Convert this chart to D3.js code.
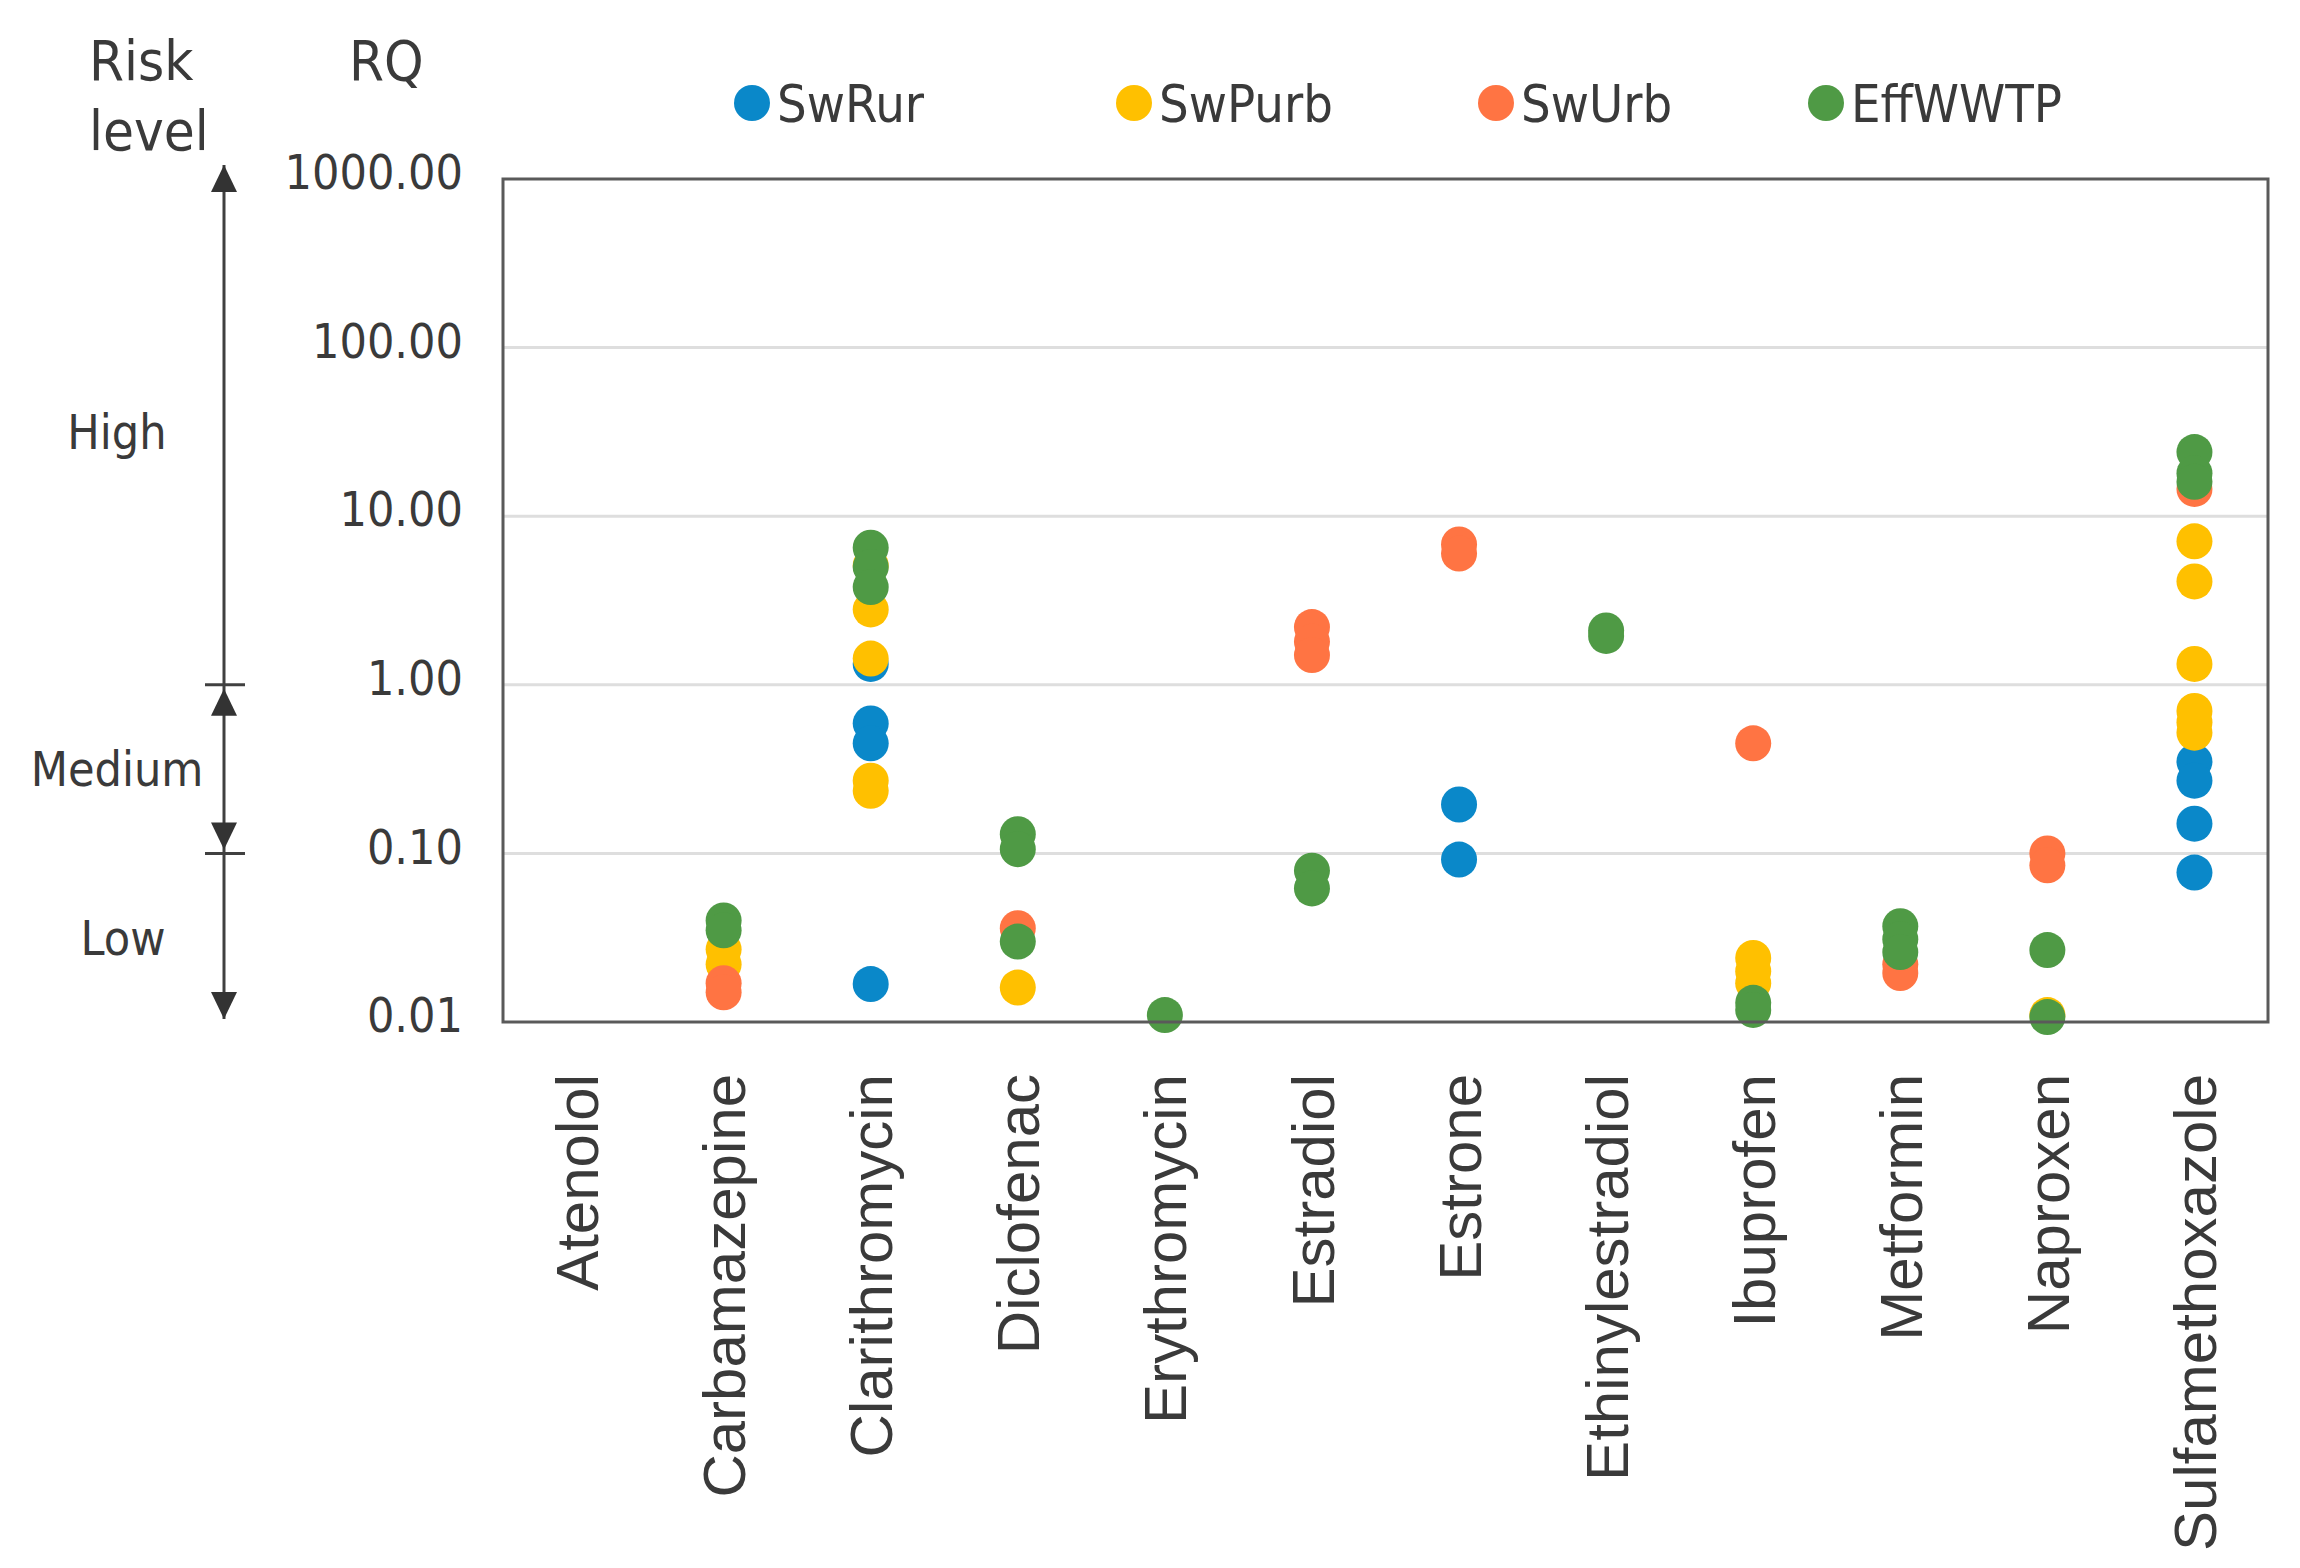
<!DOCTYPE html>
<html>
<head>
<meta charset="utf-8">
<script src="https://cdn.jsdelivr.net/npm/d3@7"></script>
<style>
  html, body { margin: 0; padding: 0; background: #fff; }
  .verd { font-family: 'DejaVu Sans Condensed', 'DejaVu Sans', sans-serif; font-stretch: condensed; fill: #3a3a3a; }
  .arial { font-family: 'Liberation Sans', Arial, sans-serif; fill: #3a3a3a; }
</style>
</head>
<body>
<div id="chart"></div>
<script>
const categories = ['Atenolol', 'Carbamazepine', 'Clarithromycin', 'Diclofenac', 'Erythromycin', 'Estradiol',
  'Estrone', 'Ethinylestradiol', 'Ibuprofen', 'Metformin', 'Naproxen', 'Sulfamethoxazole'];
const yTicks = [0.01, 0.1, 1, 10, 100, 1000];
const seriesNames = ['SwRur', 'SwPurb', 'SwUrb', 'EffWWTP'];
const seriesColors = ['#0a88c9', '#ffc000', '#ff7443', '#4f9a45'];

// [category, RQ]
const swRur = [
  ['Clarithromycin', 1.33], ['Clarithromycin', 0.59], ['Clarithromycin', 0.45], ['Clarithromycin', 0.0168],
  ['Estrone', 0.195], ['Estrone', 0.092],
  ['Sulfamethoxazole', 0.35], ['Sulfamethoxazole', 0.27], ['Sulfamethoxazole', 0.15], ['Sulfamethoxazole', 0.077]
];
const swPurb = [
  ['Carbamazepine', 0.027], ['Carbamazepine', 0.022],
  ['Clarithromycin', 5.1], ['Clarithromycin', 2.8], ['Clarithromycin', 1.43], ['Clarithromycin', 0.27], ['Clarithromycin', 0.235],
  ['Diclofenac', 0.016],
  ['Ibuprofen', 0.024], ['Ibuprofen', 0.02], ['Ibuprofen', 0.017],
  ['Naproxen', 0.011],
  ['Sulfamethoxazole', 7.1], ['Sulfamethoxazole', 4.1], ['Sulfamethoxazole', 1.33],
  ['Sulfamethoxazole', 0.7], ['Sulfamethoxazole', 0.6], ['Sulfamethoxazole', 0.52]
];
const swUrb = [
  ['Carbamazepine', 0.017], ['Carbamazepine', 0.015],
  ['Diclofenac', 0.036],
  ['Estradiol', 2.2], ['Estradiol', 1.8], ['Estradiol', 1.5],
  ['Estrone', 6.8], ['Estrone', 6.0],
  ['Ibuprofen', 0.45],
  ['Metformin', 0.022], ['Metformin', 0.0195],
  ['Naproxen', 0.1], ['Naproxen', 0.085],
  ['Sulfamethoxazole', 14.5]
];
const effWWTP = [
  ['Carbamazepine', 0.04], ['Carbamazepine', 0.035],
  ['Clarithromycin', 6.5], ['Clarithromycin', 5.0], ['Clarithromycin', 3.8],
  ['Diclofenac', 0.13], ['Diclofenac', 0.106], ['Diclofenac', 0.03],
  ['Erythromycin', 0.011],
  ['Estradiol', 0.079], ['Estradiol', 0.062],
  ['Ethinylestradiol', 2.1], ['Ethinylestradiol', 1.95],
  ['Ibuprofen', 0.013], ['Ibuprofen', 0.0118],
  ['Metformin', 0.037], ['Metformin', 0.031], ['Metformin', 0.026],
  ['Naproxen', 0.0267], ['Naproxen', 0.0107],
  ['Sulfamethoxazole', 24], ['Sulfamethoxazole', 18], ['Sulfamethoxazole', 16]
];
const allSeries = [swRur, swPurb, swUrb, effWWTP];

// risk bands: [label, from, to]
const riskBands = [['High', 1, 1000], ['Medium', 0.1, 1], ['Low', 0.01, 0.1]];

const width = 2300;
const height = 1568;
const plot = { left: 503, right: 2268, top: 179, bottom: 1022 };

const svg = d3.select('#chart')
  .append('svg')
  .attr('width', width)
  .attr('height', height)
  .attr('viewBox', `0 0 ${width} ${height}`);

const x = d3.scaleBand()
  .domain(categories)
  .range([plot.left, plot.right])
  .padding(0);

const y = d3.scaleLog()
  .domain([0.01, 1000])
  .range([plot.bottom, plot.top]);

// gridlines
svg.append('g')
  .selectAll('line')
  .data(yTicks.slice(1, -1))
  .enter()
  .append('line')
  .attr('x1', plot.left)
  .attr('x2', plot.right)
  .attr('y1', d => y(d))
  .attr('y2', d => y(d))
  .attr('stroke', '#dedede')
  .attr('stroke-width', 3);

// y axis labels
const yAxis = svg.append('g')
  .attr('transform', `translate(${plot.left},0)`)
  .call(d3.axisLeft(y).tickValues(yTicks).tickFormat(d3.format('.2f')).tickSize(0).tickPadding(40));
yAxis.select('.domain').remove();
yAxis.selectAll('text')
  .attr('class', 'verd')
  .attr('font-size', 48)
  .attr('dy', '0.2em')
  .attr('fill', '#3a3a3a');

// x axis labels (rotated)
svg.append('g')
  .selectAll('text')
  .data(categories)
  .enter()
  .append('text')
  .attr('class', 'arial')
  .attr('font-size', 60)
  .attr('text-anchor', 'end')
  .attr('dy', '0.36em')
  .attr('transform', d => `translate(${x(d) + x.bandwidth() / 2},1074) rotate(-90)`)
  .text(d => d);

// dots, series order so EffWWTP ends up on top
allSeries.forEach((pts, i) => {
  svg.append('g')
    .selectAll('circle')
    .data(pts)
    .enter()
    .append('circle')
    .attr('cx', d => x(d[0]) + x.bandwidth() / 2)
    .attr('cy', d => y(d[1]))
    .attr('r', 18)
    .attr('fill', seriesColors[i]);
});

// plot frame
svg.append('rect')
  .attr('x', plot.left)
  .attr('y', plot.top)
  .attr('width', plot.right - plot.left)
  .attr('height', plot.bottom - plot.top)
  .attr('fill', 'none')
  .attr('stroke', '#5a5a5a')
  .attr('stroke-width', 3);

// legend
const legendX = [752, 1134, 1496, 1826];
const legend = svg.append('g');
seriesNames.forEach((name, i) => {
  legend.append('circle')
    .attr('cx', legendX[i])
    .attr('cy', 103)
    .attr('r', 18)
    .attr('fill', seriesColors[i]);
  legend.append('text')
    .attr('class', 'verd')
    .attr('font-size', 52)
    .attr('x', legendX[i] + 25)
    .attr('y', 122)
    .text(name);
});

// header texts
svg.append('text').attr('class', 'verd').attr('font-size', 56).attr('x', 89).attr('y', 80).text('Risk');
svg.append('text').attr('class', 'verd').attr('font-size', 56).attr('x', 89).attr('y', 150).text('level');
svg.append('text').attr('class', 'verd').attr('font-size', 56).attr('x', 349).attr('y', 80).text('RQ');

// risk level arrows
const ax = 224;
const arrowW = 13;
const arrowH = 27;
const risk = svg.append('g').attr('stroke', '#404040').attr('fill', '#333');

function arrowHead(tipY, dir) {
  // dir -1 points up, 1 points down
  const baseY = tipY - dir * arrowH;
  risk.append('path')
    .attr('d', `M${ax},${tipY} L${ax - arrowW},${baseY} L${ax + arrowW},${baseY} Z`)
    .attr('stroke', 'none');
}

riskBands.forEach(([label, lo, hi]) => {
  const yTop = y(hi);
  const yBot = y(lo);
  risk.append('line')
    .attr('x1', ax).attr('x2', ax)
    .attr('y1', label === 'High' ? yTop - 14 : yTop)
    .attr('y2', label === 'Low' ? yBot - 3 : yBot)
    .attr('stroke-width', 3);
  svg.append('text')
    .attr('class', 'verd')
    .attr('font-size', 48)
    .attr('text-anchor', 'middle')
    .attr('x', label === 'Low' ? 123 : 117)
    .attr('y', (yTop + yBot) / 2 + 17)
    .text(label);
});

arrowHead(y(1000) - 14, -1);
arrowHead(y(1) + 4, -1);
arrowHead(y(0.1) - 4, 1);
arrowHead(y(0.01) - 3, 1);

[1, 0.1].forEach(v => {
  risk.append('line')
    .attr('x1', ax - 19).attr('x2', ax + 21)
    .attr('y1', y(v)).attr('y2', y(v))
    .attr('stroke-width', 3);
});
</script>
</body>
</html>
